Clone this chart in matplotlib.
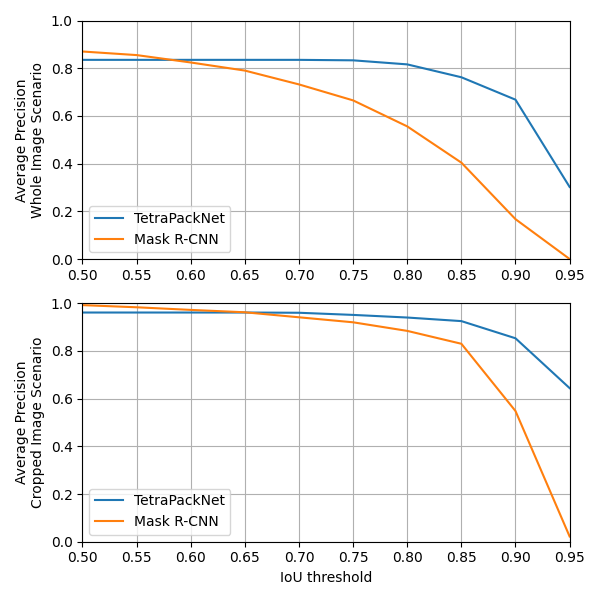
import matplotlib
matplotlib.use("Agg")
import matplotlib.pyplot as plt
import numpy as np

iou = [0.50, 0.55, 0.60, 0.65, 0.70, 0.75, 0.80, 0.85, 0.90, 0.95]

# whole image scenario
tetra_whole = [0.835, 0.835, 0.835, 0.835, 0.835, 0.833, 0.816, 0.762, 0.668, 0.302]
mask_whole = [0.870, 0.855, 0.824, 0.790, 0.732, 0.665, 0.556, 0.404, 0.167, 0.0]

# cropped image scenario
tetra_crop = [0.961, 0.961, 0.961, 0.961, 0.960, 0.951, 0.940, 0.925, 0.853, 0.644]
mask_crop = [0.992, 0.983, 0.972, 0.962, 0.941, 0.920, 0.884, 0.830, 0.548, 0.022]

ylabels = ["Average Precision\nWhole Image Scenario",
           "Average Precision\nCropped Image Scenario"]

fig, axes = plt.subplots(2, 1, figsize=(6, 6), dpi=100)

for ax, t, m, lab in zip(axes, [tetra_whole, tetra_crop], [mask_whole, mask_crop], ylabels):
    ax.plot(iou, t, label="TetraPackNet")
    ax.plot(iou, m, label="Mask R-CNN")
    ax.set_xlim(0.5, 0.95)
    ax.set_ylim(0, 1)
    ax.set_xticks(np.arange(0.5, 0.951, 0.05))
    ax.set_ylabel(lab)
    ax.grid(True)
    ax.legend(loc="lower left")

axes[1].set_xlabel("IoU threshold")
fig.tight_layout()
fig.savefig("out.png")
